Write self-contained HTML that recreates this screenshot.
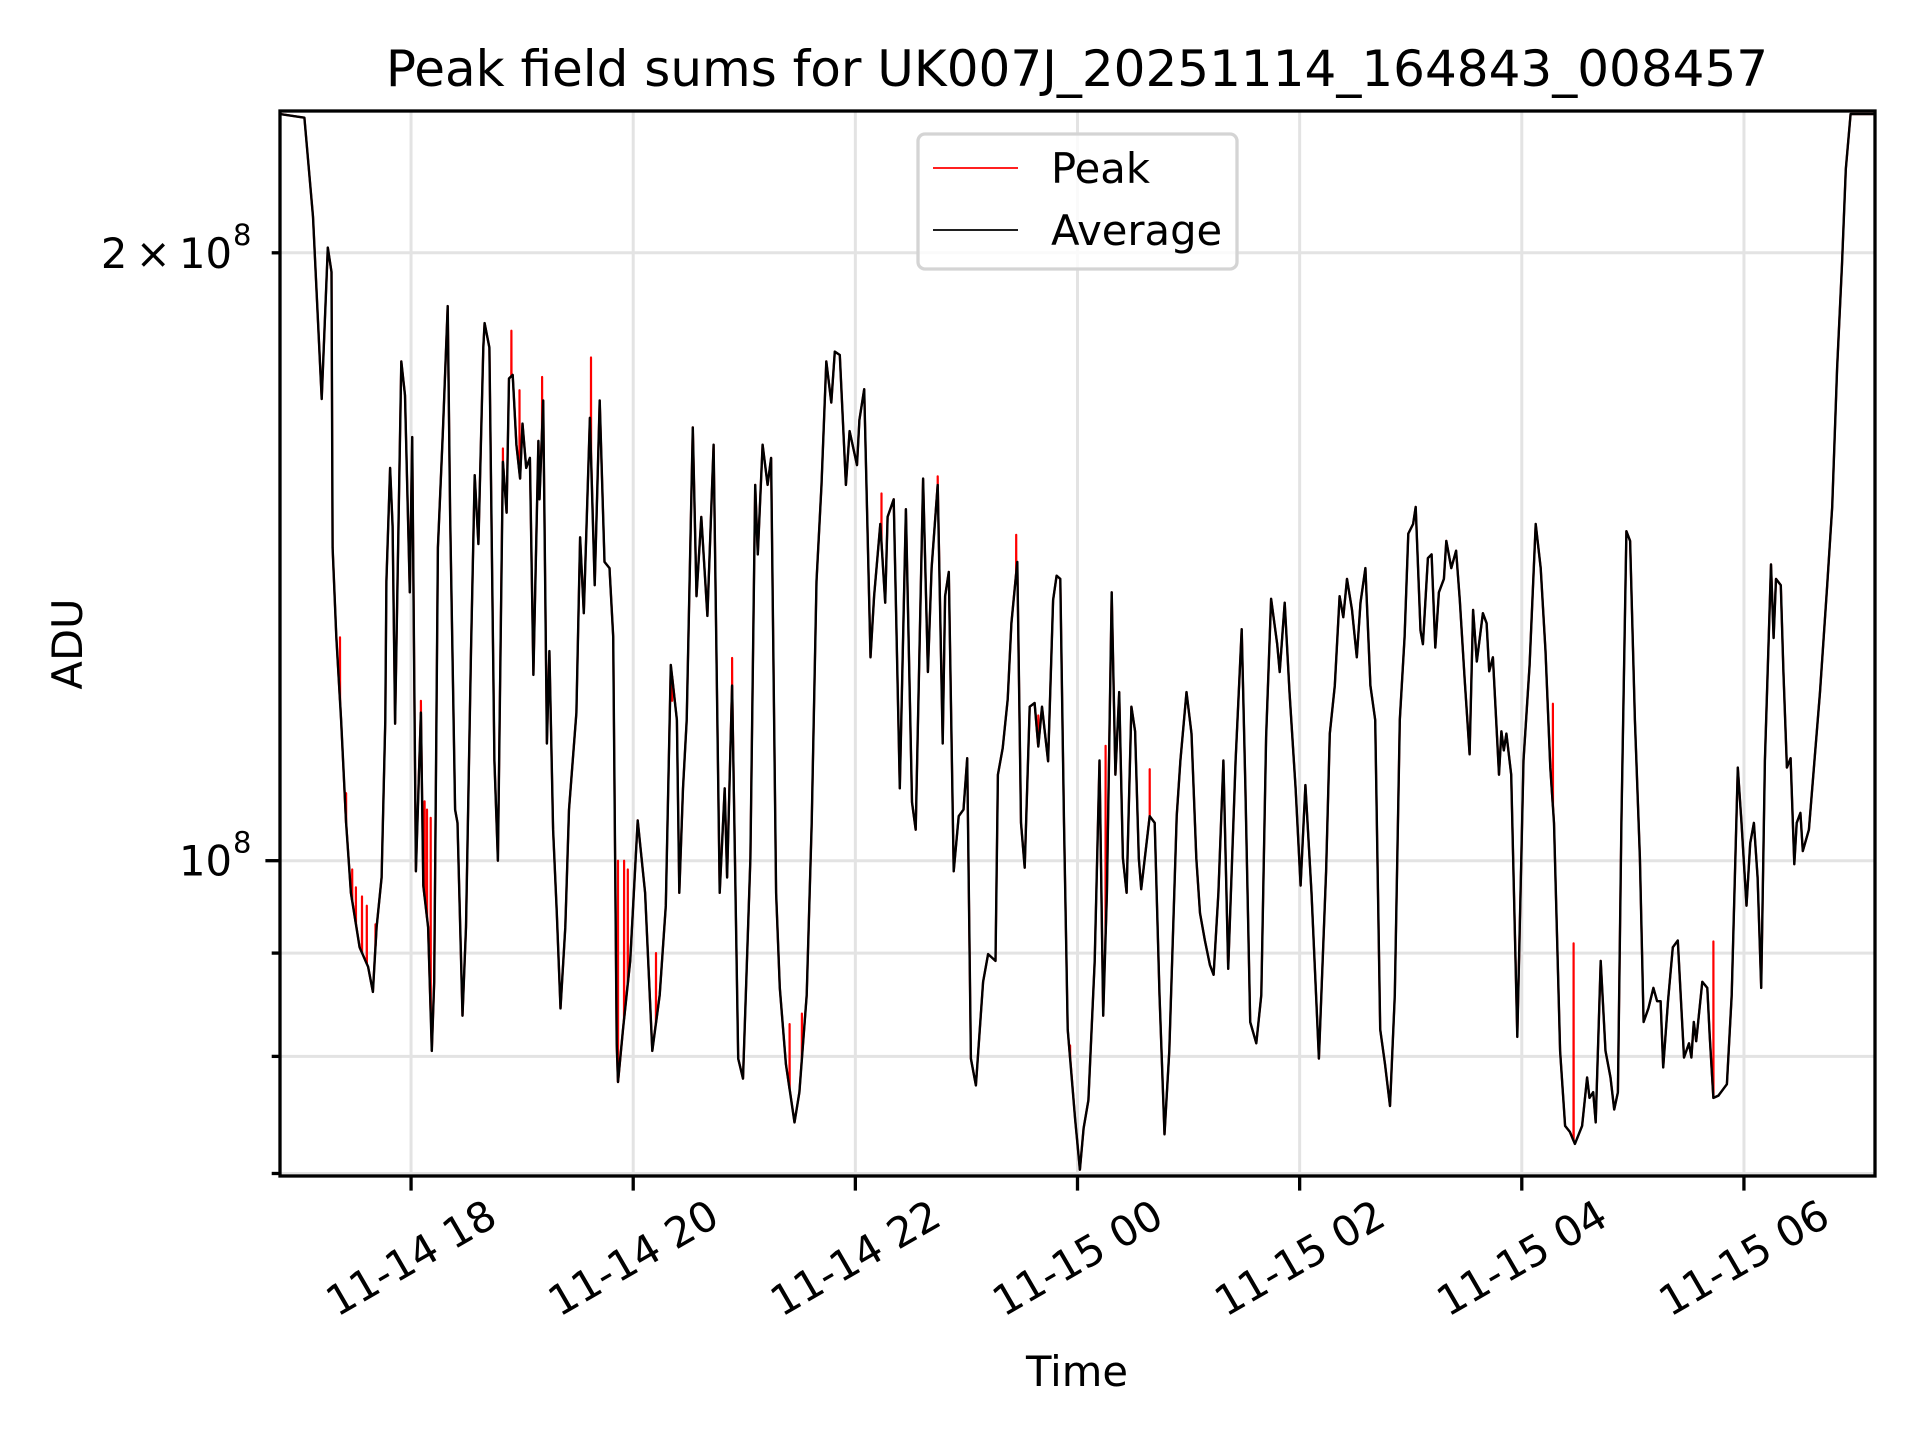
<!DOCTYPE html>
<html><head><meta charset="utf-8"><style>
html,body{margin:0;padding:0;background:#fff;}
svg text{font-family:"DejaVu Sans","Liberation Sans",sans-serif;fill:#000;}
</style></head><body>
<svg id="chart" width="1920" height="1440" viewBox="0 0 1920 1440" xmlns="http://www.w3.org/2000/svg">
<rect x="0" y="0" width="1920" height="1440" fill="#fff"/>
<g id="grid"></g>
<g id="series"></g>
<rect x="280" y="111" width="1595" height="1065" fill="none" stroke="#000" stroke-width="3.3"/>
<g id="ticks"></g>
<text x="1077" y="86" font-size="50" text-anchor="middle">Peak field sums for UK007J_20251114_164843_008457</text>
<text x="0" y="0" font-size="41.7" text-anchor="middle" transform="translate(82,644) rotate(-90)">ADU</text>
<text x="1077" y="1386" font-size="41.7" text-anchor="middle">Time</text>
<g>
<rect x="918" y="134" width="319" height="135" rx="7" fill="#fff" fill-opacity="0.8" stroke="#d4d4d4" stroke-width="3.3"/>
<line x1="933" y1="168" x2="1018" y2="168" stroke="#ff0000" stroke-width="1.8"/>
<text x="1051" y="183" font-size="41.7">Peak</text>
<line x1="933" y1="230" x2="1018" y2="230" stroke="#000" stroke-width="1.8"/>
<text x="1051" y="245" font-size="41.7">Average</text>
</g>
</svg>
<script>
// time in minutes since 11-14 16:00, values in units of 1e8 ADU
const avgTimes = [49.2,62.4,67.0,71.7,75.0,77.0,77.6,79.6,82.2,84.9,87.5,92.2,96.8,99.4,101.4,104.1,106.1,106.7,108.7,110.0,111.4,114.7,116.7,119.3,120.6,122.6,125.3,126.6,129.2,131.2,132.5,134.5,137.2,139.8,141.1,143.8,145.1,147.8,149.7,152.4,154.4,156.4,159.0,159.7,162.3,165.0,166.9,169.6,171.6,172.9,174.9,176.9,178.9,180.2,182.2,184.2,186.1,188.8,189.4,191.4,193.4,194.7,196.7,198.7,200.7,203.3,205.3,209.3,211.3,213.3,216.6,219.2,221.9,224.5,227.2,229.2,231.1,231.8,234.5,238.4,242.4,246.4,250.3,254.3,257.6,260.3,263.6,264.9,266.9,268.9,272.2,274.2,276.8,280.1,283.4,286.7,289.4,290.7,293.4,296.7,299.3,303.3,305.9,307.3,309.9,312.6,314.5,317.2,319.2,322.5,327.1,329.8,333.7,336.4,339.0,341.7,344.3,347.0,348.9,351.6,354.9,356.9,360.9,362.2,364.8,368.2,370.1,373.5,376.1,377.4,380.7,384.0,387.3,390.6,392.6,396.6,399.2,401.2,404.5,407.2,408.5,410.5,413.1,415.8,418.4,420.4,422.4,425.1,429.0,431.7,435.7,437.0,439.6,442.3,444.3,447.5,449.5,451.5,454.2,456.8,458.8,460.8,464.1,466.8,468.7,470.7,472.7,474.7,478.7,481.3,483.3,485.9,489.3,491.9,493.9,495.9,498.5,500.5,502.5,504.5,506.5,509.1,511.1,513.1,514.4,519.0,521.7,524.3,527.0,529.6,533.6,535.6,538.9,541.6,544.2,546.2,548.8,551.5,553.5,556.1,558.8,561.4,565.4,568.7,570.7,573.3,576.6,579.3,581.9,584.6,587.9,589.2,591.9,594.5,597.8,600.5,603.1,606.4,610.4,614.3,616.3,619.0,621.6,623.6,625.6,628.3,630.9,632.9,635.5,638.2,640.8,643.5,646.1,648.8,651.4,654.1,656.7,658.7,661.3,662.7,665.3,666.6,669.3,671.3,673.3,675.2,677.9,679.2,681.9,684.5,686.5,689.1,691.8,693.7,695.7,699.0,701.0,702.4,704.4,707.7,709.0,710.3,711.7,714.3,717.6,720.9,724.2,727.5,730.2,732.8,735.4,737.4,740.7,743.4,746.0,748.7,752.6,755.3,756.6,758.6,759.9,762.6,765.2,767.9,769.9,771.9,773.8,776.5,778.5,781.1,783.8,785.8,788.4,791.1,793.1,795.0,796.4,799.0,801.6,804.3,807.6,810.3,811.6,812.9,814.2,817.5,820.2,821.5,823.5,826.2,830.8,833.4,836.7,838.7,841.4,843.4,845.4,847.4,849.3,851.3,854.6,856.0,857.3,859.9,861.3,863.2,865.2,867.2,868.5,870.5,871.8,875.1,877.8,881.1,885.0,887.7,890.3,893.0,895.0,897.6,910.2];
const avgValues = [2.343,2.333,2.084,1.693,2.012,1.957,1.429,1.291,1.174,1.044,0.964,0.906,0.886,0.861,0.927,0.981,1.174,1.375,1.565,1.464,1.169,1.767,1.700,1.358,1.621,0.988,1.184,0.972,0.927,0.805,0.871,1.429,1.632,1.882,1.487,1.060,1.044,0.838,0.927,1.270,1.552,1.435,1.795,1.846,1.795,1.121,1.000,1.576,1.487,1.733,1.740,1.607,1.546,1.646,1.565,1.583,1.236,1.614,1.510,1.690,1.143,1.270,1.036,0.942,0.845,0.927,1.060,1.184,1.446,1.326,1.657,1.369,1.690,1.406,1.396,1.291,0.812,0.777,0.825,0.892,1.047,0.964,0.805,0.858,0.950,1.250,1.174,0.964,1.086,1.174,1.639,1.352,1.480,1.322,1.607,0.964,1.086,0.981,1.221,0.798,0.780,1.003,1.535,1.418,1.607,1.535,1.583,0.964,0.865,0.793,0.742,0.768,0.858,1.044,1.375,1.535,1.767,1.686,1.787,1.780,1.535,1.632,1.570,1.653,1.712,1.261,1.352,1.468,1.342,1.480,1.510,1.086,1.493,1.069,1.036,1.546,1.240,1.396,1.535,1.143,1.352,1.390,0.988,1.052,1.060,1.124,0.798,0.774,0.871,0.899,0.892,1.103,1.137,1.202,1.311,1.406,1.044,0.992,1.192,1.197,1.139,1.192,1.120,1.346,1.384,1.379,1.044,0.825,0.745,0.703,0.737,0.761,0.892,1.121,0.838,0.964,1.358,1.103,1.212,1.003,0.964,1.192,1.159,1.003,0.968,1.052,1.044,0.858,0.732,0.805,1.052,1.121,1.212,1.156,1.003,0.942,0.913,0.888,0.878,0.964,1.121,0.884,1.121,1.302,1.086,0.832,0.812,0.858,1.151,1.348,1.280,1.240,1.342,1.212,1.086,0.972,1.090,0.964,0.798,0.988,1.156,1.221,1.352,1.320,1.379,1.331,1.261,1.342,1.396,1.221,1.174,0.825,0.793,0.756,0.858,1.174,1.291,1.452,1.468,1.497,1.300,1.280,1.412,1.418,1.275,1.358,1.379,1.440,1.396,1.424,1.346,1.231,1.129,1.331,1.255,1.326,1.311,1.241,1.261,1.103,1.159,1.134,1.156,1.103,0.818,1.121,1.250,1.468,1.396,1.270,1.112,1.044,0.805,0.739,0.734,0.724,0.739,0.781,0.763,0.768,0.742,0.892,0.805,0.781,0.753,0.768,1.044,1.456,1.440,1.174,1.003,0.832,0.845,0.865,0.852,0.852,0.790,0.852,0.906,0.913,0.799,0.812,0.799,0.832,0.814,0.871,0.865,0.819,0.763,0.765,0.775,0.858,1.112,1.044,0.950,1.020,1.044,0.981,0.865,1.121,1.402,1.289,1.379,1.369,1.241,1.112,1.124,0.996,1.044,1.056,1.011,1.036,1.112,1.212,1.369,1.497,1.753,1.974,2.200,2.343,2.343];
// additional short-lived peak excursions (time, value)
const spikeTimes = [81.6,84.9,88.2,90.2,93.5,96.1,100.8,125.3,127.3,128.6,130.6,169.6,174.2,178.6,190.8,217.2,231.8,235.1,237.1,252.3,261.0,293.4,324.5,331.1,374.1,404.5,446.9,458.8,476.0,495.2,519.0,736.8,748.0,823.5];
const spikeValues = [1.29,1.08,0.99,0.97,0.96,0.95,0.93,1.20,1.07,1.06,1.05,1.60,1.83,1.71,1.736,1.775,1.00,1.00,0.99,0.90,1.20,1.26,0.83,0.84,1.52,1.55,1.45,1.18,0.81,1.14,1.11,1.196,0.91,0.912];
const xTickMinutes = [120,240,360,480,600,720,840];
const xTickLabels = ["11-14 18","11-14 20","11-14 22","11-15 00","11-15 02","11-15 04","11-15 06"];
const yMajorTicks = [1.0];
const yMajorLabels = ["10"];
const yMinorTicks = [0.7,0.8,0.9,2.0];
const yMinorLabelText = ["","","","2\u2009×\u200910"];

const NS = "http://www.w3.org/2000/svg";
const X0 = 280, X1 = 1875, Y0 = 1176, Y1 = 111;
const tMin = 49.2, tMax = 910.8;
const lvMin = Math.log10(0.698), lvMax = Math.log10(2.351);
function xs(t){ return X0 + (t - tMin) / (tMax - tMin) * (X1 - X0); }
function ys(v){ return Y0 - (Math.log10(v) - lvMin) / (lvMax - lvMin) * (Y0 - Y1); }
function mk(tag, attrs, parent){ const e = document.createElementNS(NS, tag); for (const k in attrs) e.setAttribute(k, attrs[k]); parent.appendChild(e); return e; }
const grid = document.getElementById('grid'), ticks = document.getElementById('ticks'), series = document.getElementById('series');

xTickMinutes.forEach((t, i) => {
  const x = xs(t);
  const g = mk('line', {x1:x, y1:Y1, x2:x, y2:Y0, stroke:'#e3e3e3', 'stroke-width':3}, grid);
  
  
  const tk = mk('line', {x1:x, y1:Y0, x2:x, y2:Y0+14.6, stroke:'#000', 'stroke-width':3.3}, ticks);
  
  
  const lb = mk('text', {x:0, y:0, 'font-size':41.7, 'text-anchor':'middle', 'dominant-baseline':'central', transform:'translate(' + x + ',1258) rotate(-30)'}, ticks);
  lb.textContent = xTickLabels[i];
  
  
});
function yTick(v, len, label){
  const y = ys(v);
  const g = mk('line', {x1:X0, y1:y, x2:X1, y2:y, stroke:'#e3e3e3', 'stroke-width':3}, grid);
  
  
  const tk = mk('line', {x1:X0-len, y1:y, x2:X0, y2:y, stroke:'#000', 'stroke-width':3.3}, ticks);
  
  
  if (label) {
    const lb = mk('text', {x:X0-48, y:y+15, 'font-size':41.7, 'text-anchor':'end'}, ticks);
    lb.textContent = label;
    
    
    const sp = mk('text', {x:X0-47, y:y-8, 'font-size':29}, ticks);
    sp.textContent = '8';
    
    
  }
}
yMajorTicks.forEach((v, i) => yTick(v, 14.6, yMajorLabels[i]));
yMinorTicks.forEach((v, i) => yTick(v, 8.3, yMinorLabelText[i]));

function avgAt(t){
  for (let i = 1; i < avgTimes.length; i++) {
    if (avgTimes[i] >= t) {
      const f = (t - avgTimes[i-1]) / (avgTimes[i] - avgTimes[i-1] || 1);
      return avgValues[i-1] + f * (avgValues[i] - avgValues[i-1]);
    }
  }
  return avgValues[avgValues.length - 1];
}
// peak series: average trace with vertical spikes merged in
const peakPts = avgTimes.map((t, i) => [t, avgValues[i], 0]);
spikeTimes.forEach((t, i) => {
  const b = avgAt(t);
  peakPts.push([t - 0.05, b, 1]);
  peakPts.push([t, spikeValues[i], 2]);
  peakPts.push([t + 0.05, b, 3]);
});
peakPts.sort((a, b) => a[0] - b[0] || a[2] - b[2]);
function pathFrom(pts){ return pts.map((p, i) => (i ? 'L' : 'M') + xs(p[0]).toFixed(1) + ',' + Math.min(Y0, Math.max(Y1, ys(p[1]))).toFixed(1)).join(''); }
const clip = mk('clipPath', {id:'plotclip'}, series);
mk('rect', {x:X0, y:Y1, width:X1-X0, height:Y0-Y1}, clip);
const peak = mk('path', {d:pathFrom(peakPts), fill:'none', stroke:'#ff0000', 'stroke-width':2.2, 'stroke-linejoin':'round', 'clip-path':'url(#plotclip)'}, series);


const avg = mk('path', {d:pathFrom(avgTimes.map((t, i) => [t, avgValues[i]])), fill:'none', stroke:'#000', 'stroke-width':2.4, 'stroke-linejoin':'round', 'clip-path':'url(#plotclip)'}, series);


</script>
</body></html>
